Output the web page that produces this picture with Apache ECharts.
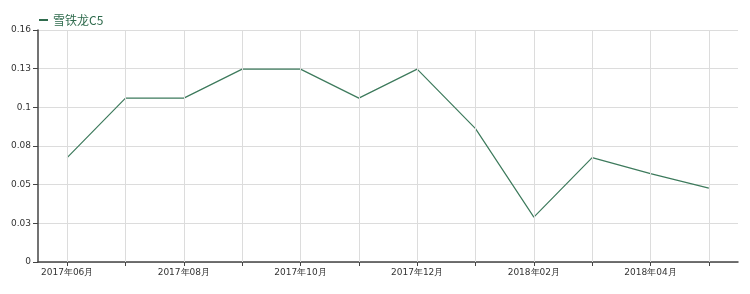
<!DOCTYPE html>
<html>
<head>
<meta charset="utf-8">
<script src="https://cdn.jsdelivr.net/npm/echarts@6/dist/echarts.min.js"></script>
<style>html,body{margin:0;padding:0;background:#fff;}#c{width:750px;height:294px;}</style>
</head>
<body>
<div id="c"></div>
<script>
var categories = ['2017年06月','2017年07月','2017年08月','2017年09月','2017年10月','2017年11月','2017年12月','2018年01月','2018年02月','2018年03月','2018年04月','2018年05月'];
var seriesName = '雪铁龙C5';
var values = [0.072, 0.113, 0.113, 0.133, 0.133, 0.113, 0.133, 0.092, 0.031, 0.072, 0.061, 0.051];
var yTickLabels = ['0','0.03','0.05','0.08','0.1','0.13','0.16'];
var yMax = 0.16;
var yStep = yMax / 6;

var chart = echarts.init(document.getElementById('c'));
chart.setOption({
  animation: false,
  backgroundColor: '#fff',
  legend: {
    left: 34, top: 9,
    itemWidth: 9, itemHeight: 2, itemGap: 3,
    icon: 'rect',
    data: [seriesName],
    textStyle: { color: '#2f6b4d', fontSize: 12, fontFamily: 'Noto Sans CJK SC' }
  },
  grid: { left: 38, right: 12, top: 30, bottom: 32 },
  xAxis: {
    type: 'category',
    data: categories,
    boundaryGap: true,
    axisLine: { lineStyle: { color: '#444', width: 1.5 } },
    axisTick: { show: true, alignWithLabel: true, interval: 0, length: 4, lineStyle: { color: '#444' } },
    axisLabel: { interval: 1, color: '#333', fontSize: 9, fontFamily: 'DejaVu Sans', margin: 6 },
    splitLine: { show: false }
  },
  yAxis: {
    type: 'value',
    min: 0, max: yMax, interval: yStep,
    axisLine: { show: true, lineStyle: { color: '#444', width: 1.5 } },
    axisTick: { show: true, length: 5, lineStyle: { color: '#444' } },
    axisLabel: {
      color: '#333', fontSize: 9, fontFamily: 'DejaVu Sans', margin: 7,
      formatter: function (v) { return yTickLabels[Math.round(v / yStep)]; }
    },
    splitLine: { show: true, lineStyle: { color: '#dcdcdc', width: 1 } }
  },
  series: [{
    name: 'vgrid',
    type: 'line',
    data: [],
    z: 1,
    silent: true,
    markLine: {
      silent: true,
      symbol: 'none',
      label: { show: false },
      lineStyle: { color: '#dcdcdc', width: 1, type: 'solid' },
      emphasis: { disabled: true },
      data: categories.map(function (c) { return { xAxis: c }; })
    }
  }, {
    name: seriesName,
    type: 'line',
    z: 3,
    data: values,
    symbol: 'none',
    lineStyle: { color: '#3d7a5c', width: 1.2 },
    itemStyle: { color: '#2f6b4d' }
  }]
});
</script>
</body>
</html>
